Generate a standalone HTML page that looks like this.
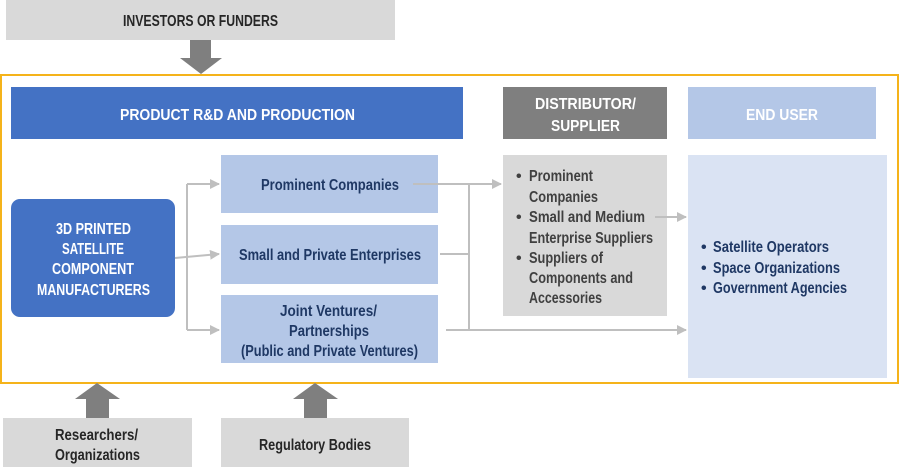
<!DOCTYPE html>
<html><head><meta charset="utf-8"><style>
html,body{margin:0;padding:0;background:#fff;}
svg{display:block;}
text{font-family:"Liberation Sans",sans-serif;font-size:16px;font-weight:bold;}
</style></head><body>
<svg width="900" height="474" viewBox="0 0 900 474" xmlns="http://www.w3.org/2000/svg">
<defs><marker id="a" markerWidth="10" markerHeight="10" refX="9" refY="5" orient="auto" markerUnits="userSpaceOnUse"><path d="M0,0 L10,5 L0,10 z" fill="#bfbfbf"/></marker></defs>
<rect x="6" y="0" width="389" height="40" fill="#d9d9d9"/>
<text x="123" y="26" textLength="155" lengthAdjust="spacingAndGlyphs" fill="#262626">INVESTORS OR FUNDERS</text>
<path d="M190,40 H211 V58 H222 L201,74 L180,58 H190 Z" fill="#7f7f7f"/>
<rect x="1" y="75" width="897" height="308" fill="none" stroke="#f5b31a" stroke-width="2"/>
<rect x="11" y="87" width="452" height="52" fill="#4472c4"/>
<text x="120" y="120" textLength="235" lengthAdjust="spacingAndGlyphs" fill="#fff" font-size="17">PRODUCT R&amp;D AND PRODUCTION</text>
<rect x="503" y="87" width="164" height="52" fill="#7f7f7f"/>
<text x="535" y="109" textLength="101" lengthAdjust="spacingAndGlyphs" fill="#fff" font-size="17">DISTRIBUTOR/</text>
<text x="551" y="131" textLength="69" lengthAdjust="spacingAndGlyphs" fill="#fff" font-size="17">SUPPLIER</text>
<rect x="688" y="87" width="188" height="52" fill="#b4c7e7"/>
<text x="746" y="120" textLength="72" lengthAdjust="spacingAndGlyphs" fill="#fff" font-size="17">END USER</text>
<rect x="11" y="199" width="164" height="118" rx="9" fill="#4472c4"/>
<g fill="#fff" font-size="15"><text x="56" y="234" textLength="75" lengthAdjust="spacingAndGlyphs">3D PRINTED</text><text x="62" y="254" textLength="62" lengthAdjust="spacingAndGlyphs">SATELLITE</text><text x="52" y="274" textLength="82" lengthAdjust="spacingAndGlyphs">COMPONENT</text><text x="37" y="295" textLength="113" lengthAdjust="spacingAndGlyphs">MANUFACTURERS</text></g>
<rect x="221" y="155" width="217" height="58" fill="#b4c7e7"/>
<rect x="221" y="225" width="217" height="59" fill="#b4c7e7"/>
<rect x="221" y="295" width="217" height="68" fill="#b4c7e7"/>
<g fill="#1f3864" font-size="15"><text x="261" y="190" textLength="138" lengthAdjust="spacingAndGlyphs">Prominent Companies</text><text x="239" y="260" textLength="182" lengthAdjust="spacingAndGlyphs">Small and Private Enterprises</text><text x="280" y="316" textLength="97" lengthAdjust="spacingAndGlyphs">Joint Ventures/</text><text x="289" y="336" textLength="80" lengthAdjust="spacingAndGlyphs">Partnerships</text><text x="241" y="356" textLength="177" lengthAdjust="spacingAndGlyphs">(Public and Private Ventures)</text></g>
<rect x="503" y="155" width="164" height="161" fill="#d9d9d9"/>
<g fill="#404040" font-size="15"><text x="516" y="181">•</text><text x="529" y="181" textLength="64" lengthAdjust="spacingAndGlyphs">Prominent</text><text x="529" y="202" textLength="69" lengthAdjust="spacingAndGlyphs">Companies</text><text x="516" y="222">•</text><text x="529" y="222" textLength="116" lengthAdjust="spacingAndGlyphs">Small and Medium</text><text x="529" y="243" textLength="124" lengthAdjust="spacingAndGlyphs">Enterprise Suppliers</text><text x="516" y="263">•</text><text x="529" y="263" textLength="74" lengthAdjust="spacingAndGlyphs">Suppliers of</text><text x="529" y="283" textLength="104" lengthAdjust="spacingAndGlyphs">Components and</text><text x="529" y="303" textLength="73" lengthAdjust="spacingAndGlyphs">Accessories</text></g>
<rect x="688" y="155" width="199" height="223" fill="#dae3f3"/>
<g fill="#1f3864" font-size="15"><text x="701" y="252">•</text><text x="713" y="252" textLength="116" lengthAdjust="spacingAndGlyphs">Satellite Operators</text><text x="701" y="273">•</text><text x="713" y="273" textLength="127" lengthAdjust="spacingAndGlyphs">Space Organizations</text><text x="701" y="293">•</text><text x="713" y="293" textLength="134" lengthAdjust="spacingAndGlyphs">Government Agencies</text></g>
<g stroke="#bfbfbf" stroke-width="2" fill="none">
<path d="M175,258 L219,254" marker-end="url(#a)"/>
<path d="M187,184 V330"/>
<path d="M187,184 H219" marker-end="url(#a)"/>
<path d="M187,330 H219" marker-end="url(#a)"/>
<path d="M413,184 H501" marker-end="url(#a)"/>
<path d="M469,184 V330"/>
<path d="M440,254 H468"/>
<path d="M446,330 H686" marker-end="url(#a)"/>
<path d="M655,217 H686" marker-end="url(#a)"/>
</g>
<path d="M86,418 V399 H75 L97,383 L120,399 H109 V418 Z" fill="#7f7f7f"/>
<path d="M304,418 V399 H293 L315,383 L338,399 H327 V418 Z" fill="#7f7f7f"/>
<rect x="3" y="418" width="189" height="49" fill="#d9d9d9"/>
<rect x="221" y="418" width="188" height="49" fill="#d9d9d9"/>
<g fill="#262626" font-size="15"><text x="55" y="440" textLength="83" lengthAdjust="spacingAndGlyphs">Researchers/</text><text x="55" y="460" textLength="85" lengthAdjust="spacingAndGlyphs">Organizations</text><text x="259" y="450" textLength="112" lengthAdjust="spacingAndGlyphs">Regulatory Bodies</text></g>
</svg>
</body></html>
